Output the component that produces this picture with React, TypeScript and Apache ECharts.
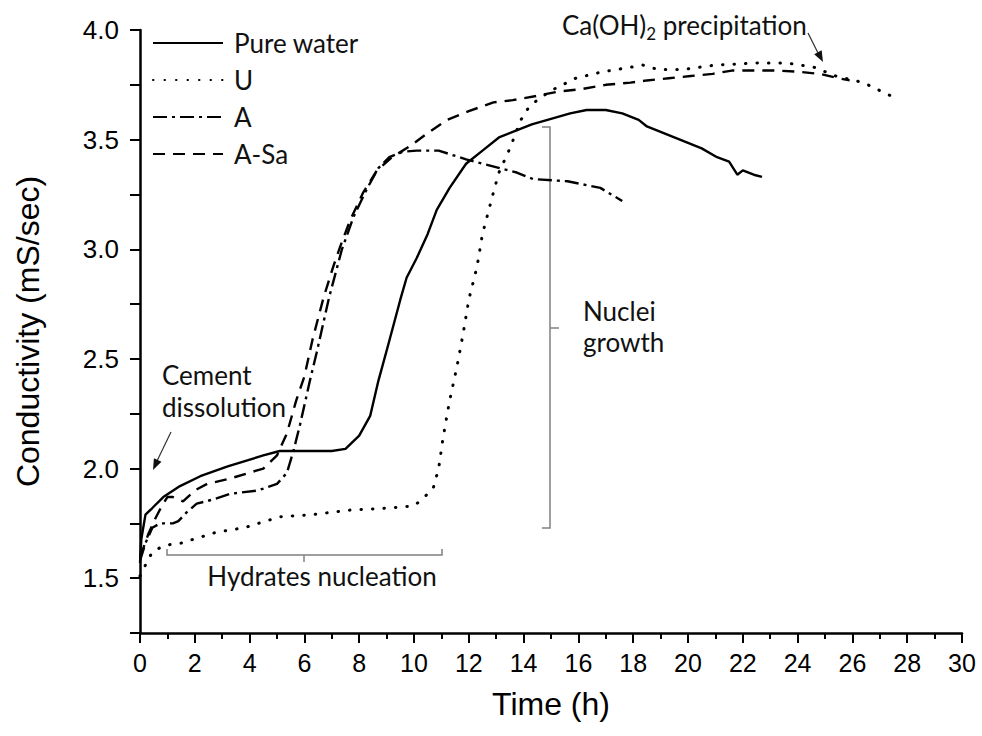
import React, { useEffect, useRef } from "react";
import * as echarts from "echarts";

// ---- data ----
const seriesNames = ["Pure water", "U", "A", "A-Sa"];

const pureWater: [number, number][] = [
  [0, 1.57], [0.05, 1.68], [0.2, 1.79], [0.45, 1.82], [0.85, 1.87], [1.46, 1.92],
  [2.2, 1.965], [3.2, 2.01], [4.5, 2.06], [5.1, 2.08], [6.0, 2.08], [7.0, 2.08],
  [7.5, 2.09], [8.0, 2.15], [8.4, 2.24], [8.7, 2.4], [9.05, 2.56], [9.5, 2.77],
  [9.73, 2.87], [10.1, 2.96], [10.5, 3.07], [10.83, 3.18], [11.3, 3.28], [11.9, 3.39],
  [12.5, 3.45], [13.1, 3.51], [14.3, 3.57], [15.7, 3.62], [16.3, 3.635], [17.0, 3.635],
  [17.6, 3.62], [18.2, 3.59], [18.5, 3.56], [19.5, 3.51], [20.5, 3.46], [21.06, 3.42],
  [21.5, 3.4], [21.8, 3.34], [22.0, 3.36], [22.4, 3.34], [22.7, 3.33],
];

const seriesU: [number, number][] = [
  [0, 1.51], [0.2, 1.56], [0.45, 1.62], [0.9, 1.65], [1.5, 1.66], [2.8, 1.71],
  [3.8, 1.73], [5.1, 1.78], [6.3, 1.79], [7.6, 1.81], [9.1, 1.82], [10.0, 1.83],
  [10.3, 1.86], [10.7, 1.91], [10.9, 2.0], [11.06, 2.14], [11.3, 2.31], [11.56, 2.46],
  [11.8, 2.62], [12.0, 2.77], [12.3, 2.92], [12.5, 3.07], [12.9, 3.26], [13.1, 3.35],
  [13.5, 3.46], [13.9, 3.59], [14.2, 3.65], [14.6, 3.69], [15.1, 3.73], [15.9, 3.78],
  [16.9, 3.81], [17.9, 3.83], [18.35, 3.84], [18.9, 3.82], [19.8, 3.82], [21.0, 3.84],
  [22.6, 3.85], [23.6, 3.85], [24.6, 3.83], [25.4, 3.79], [26.4, 3.76], [27.4, 3.7],
];

const seriesA: [number, number][] = [
  [0, 1.58], [0.2, 1.66], [0.45, 1.73], [0.73, 1.75], [1.2, 1.75], [1.4, 1.76],
  [1.7, 1.8], [2.07, 1.84], [2.7, 1.86], [3.3, 1.885], [4.3, 1.9], [5.0, 1.93],
  [5.36, 1.98], [5.6, 2.08], [5.84, 2.2], [6.2, 2.4], [6.45, 2.53], [6.9, 2.78],
  [7.37, 3.0], [7.8, 3.15], [8.3, 3.28], [8.7, 3.37], [9.1, 3.42], [9.6, 3.445],
  [10.1, 3.45], [10.9, 3.45], [11.9, 3.41], [12.5, 3.39], [13.75, 3.35], [14.35, 3.32],
  [15.6, 3.31], [16.8, 3.28], [17.6, 3.22],
];

const seriesASa: [number, number][] = [
  [0, 1.6], [0.1, 1.63], [0.3, 1.7], [0.55, 1.77], [0.8, 1.83], [1.0, 1.87],
  [1.2, 1.87], [1.57, 1.85], [2.0, 1.9], [2.45, 1.93], [3.3, 1.955], [4.5, 2.0],
  [5.0, 2.06], [5.36, 2.16], [5.7, 2.31], [6.0, 2.42], [6.3, 2.59], [6.7, 2.78],
  [7.05, 2.92], [7.3, 3.01], [7.66, 3.13], [8.15, 3.26], [8.65, 3.36], [9.2, 3.42],
  [9.85, 3.47], [10.5, 3.53], [11.2, 3.59], [12.0, 3.63], [12.9, 3.67], [13.6, 3.68],
  [14.5, 3.7], [15.3, 3.72], [16.1, 3.73], [17.0, 3.75], [17.9, 3.76], [18.5, 3.77],
  [19.3, 3.78], [20.1, 3.79], [20.9, 3.8], [21.6, 3.815], [23.2, 3.815], [24.0, 3.81],
  [24.8, 3.8], [25.5, 3.78], [25.9, 3.77],
];

const xMin = 0, xMax = 30, xStep = 2;
const yMin = 1.25, yMax = 4.0, yStep = 0.25;

const AXIS_FONT = "'Liberation Sans', Arial, sans-serif";
const NOTE_FONT = "Lato, 'Noto Sans', sans-serif";

export default function App() {
  const ref = useRef<HTMLDivElement>(null);

  useEffect(() => {
    document.body.style.margin = "0";
    if (!ref.current) return;
    const chart = echarts.init(ref.current, null, { renderer: "svg" });

    const grey = "#808080";
    const black = "#000";

    const arrowHead = (tip: [number, number], from: [number, number]) => {
      const dx = tip[0] - from[0], dy = tip[1] - from[1];
      const len = Math.hypot(dx, dy);
      const ux = dx / len, uy = dy / len;
      const bx = tip[0] - ux * 11, by = tip[1] - uy * 11;
      const px = -uy * 4.2, py = ux * 4.2;
      return [tip, [bx + px, by + py], [bx - px, by - py]];
    };

    chart.setOption({
      animation: false,
      backgroundColor: "#fff",
      grid: { left: 140, right: 20, top: 30, bottom: 103 },
      legend: {
        orient: "vertical",
        left: 147,
        top: 25,
        itemWidth: 70,
        itemHeight: 14,
        itemGap: 11,
        data: seriesNames,
        itemStyle: { opacity: 0 },
        textStyle: {
          fontFamily: NOTE_FONT,
          fontSize: 26,
          lineHeight: 26,
          color: "#111",
          padding: [0, 0, 0, 6],
        },
      },
      xAxis: {
        type: "value",
        min: xMin,
        max: xMax,
        interval: xStep,
        name: "Time (h)",
        nameLocation: "middle",
        nameGap: 55,
        nameTextStyle: { fontFamily: AXIS_FONT, fontSize: 32, color: black },
        axisLine: { show: true, onZero: false, lineStyle: { color: black, width: 2.5 } },
        axisTick: { show: true, inside: false, length: 10, lineStyle: { color: black, width: 2 } },
        minorTick: { show: true, splitNumber: 2, length: 6, lineStyle: { color: black, width: 2 } },
        axisLabel: { fontFamily: AXIS_FONT, fontSize: 25, color: black, margin: 17 },
        splitLine: { show: false },
      },
      yAxis: {
        type: "value",
        min: yMin,
        max: yMax,
        interval: yStep,
        name: "Conductivity (mS/sec)",
        nameLocation: "middle",
        nameGap: 96,
        nameTextStyle: { fontFamily: AXIS_FONT, fontSize: 32, color: black },
        axisLine: { show: true, onZero: false, lineStyle: { color: black, width: 2.5 } },
        axisTick: { show: true, inside: false, length: 10, lineStyle: { color: black, width: 2 } },
        axisLabel: {
          fontFamily: AXIS_FONT,
          fontSize: 26,
          color: black,
          margin: 21,
          formatter: (v: number) =>
            Math.abs(v * 2 - Math.round(v * 2)) < 1e-6 ? v.toFixed(1) : "",
        },
        splitLine: { show: false },
      },
      series: [
        {
          name: seriesNames[0], type: "line", data: pureWater, symbol: "none",
          lineStyle: { color: black, width: 2.4, type: "solid" },
          itemStyle: { color: black },
        },
        {
          name: seriesNames[1], type: "line", data: seriesU, symbol: "none",
          lineStyle: { color: black, width: 3, type: [0.5, 11], cap: "round" },
          itemStyle: { color: black },
        },
        {
          name: seriesNames[2], type: "line", data: seriesA, symbol: "none",
          lineStyle: { color: black, width: 2.4, type: [14, 5, 3, 5] },
          itemStyle: { color: black },
        },
        {
          name: seriesNames[3], type: "line", data: seriesASa, symbol: "none",
          lineStyle: { color: black, width: 2.4, type: [12, 8] },
          itemStyle: { color: black },
        },
      ],
      graphic: [
        // Cement dissolution
        { type: "text", left: 162, top: 362, style: { text: "Cement", font: `26px ${NOTE_FONT}`, fill: "#111" } },
        { type: "text", left: 162, top: 394, style: { text: "dissolution", font: `26px ${NOTE_FONT}`, fill: "#111" } },
        { type: "line", shape: { x1: 171, y1: 432, x2: 156, y2: 463 }, style: { stroke: "#333", lineWidth: 1.2 } },
        { type: "polygon", shape: { points: arrowHead([153, 470], [171, 432]) }, style: { fill: "#111" } },
        // Hydrates nucleation bracket
        { type: "polyline", shape: { points: [[167, 549], [167, 555], [442, 555], [442, 549]] }, style: { stroke: grey, lineWidth: 1.5, fill: null } },
        { type: "line", shape: { x1: 304, y1: 555, x2: 304, y2: 562 }, style: { stroke: grey, lineWidth: 1.5 } },
        { type: "text", x: 322, y: 576, style: { text: "Hydrates nucleation", font: `26px ${NOTE_FONT}`, fill: "#111", align: "center", verticalAlign: "middle" } },
        // Nuclei growth bracket
        { type: "polyline", shape: { points: [[542, 127], [550, 127], [550, 528], [542, 528]] }, style: { stroke: grey, lineWidth: 1.5, fill: null } },
        { type: "line", shape: { x1: 550, y1: 328, x2: 559, y2: 328 }, style: { stroke: grey, lineWidth: 1.5 } },
        { type: "text", x: 583, y: 311, style: { text: "Nuclei", font: `26px ${NOTE_FONT}`, fill: "#111", verticalAlign: "middle" } },
        { type: "text", x: 583, y: 342, style: { text: "growth", font: `26px ${NOTE_FONT}`, fill: "#111", verticalAlign: "middle" } },
        // Ca(OH)2 precipitation
        {
          type: "text", x: 562, y: 25,
          style: {
            text: "Ca(OH){s|2} precipitation",
            fontFamily: NOTE_FONT, fontSize: 26, lineHeight: 34, fill: "#111",
            verticalAlign: "middle",
            rich: { s: { fontFamily: NOTE_FONT, fontSize: 17, lineHeight: 17, verticalAlign: "bottom", fill: "#111" } },
          },
        },
        { type: "line", shape: { x1: 808, y1: 33, x2: 818, y2: 53 }, style: { stroke: "#333", lineWidth: 1.2 } },
        { type: "polygon", shape: { points: arrowHead([823, 62], [808, 33]) }, style: { fill: "#111" } },
      ],
    });

    return () => chart.dispose();
  }, []);

  return <div ref={ref} style={{ width: 982, height: 736 }} />;
}
